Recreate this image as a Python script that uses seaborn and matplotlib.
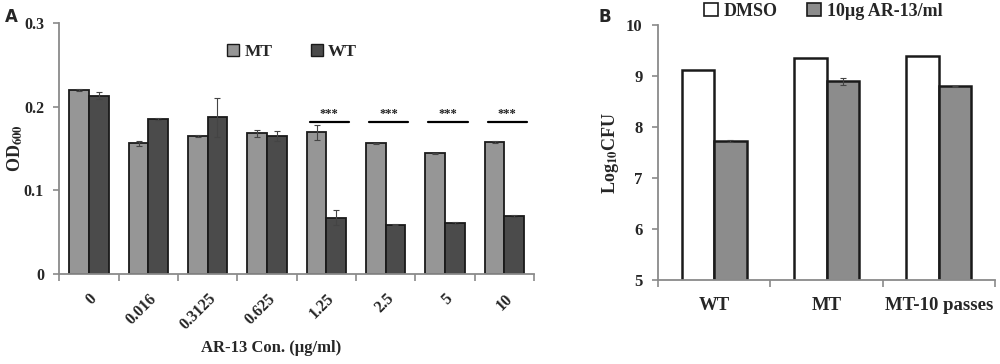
import matplotlib
matplotlib.use("Agg")
import matplotlib.pyplot as plt
import seaborn as sns
import pandas as pd
from matplotlib.patches import Patch

# Painel A: OD600 por concentração de AR-13
concentracoes = ["0", "0.016", "0.3125", "0.625", "1.25", "2.5", "5", "10"]
od_mt = [0.220, 0.156, 0.165, 0.168, 0.169, 0.156, 0.144, 0.158]
od_wt = [0.213, 0.185, 0.187, 0.165, 0.067, 0.059, 0.061, 0.069]
err_mt = [0.001, 0.003, 0.001, 0.004, 0.009, 0.001, 0.001, 0.001]
err_wt = [0.004, 0.001, 0.023, 0.006, 0.009, 0.001, 0.001, 0.001]
signif = ["", "", "", "", "***", "***", "***", "***"]

# Painel B: Log10 CFU
cepas = ["WT", "MT", "MT-10 passes"]
tratamentos = ["DMSO", "10µg AR-13/ml"]
cfu_dmso = [9.12, 9.35, 9.40]
cfu_ar13 = [7.73, 8.90, 8.80]
err_ar13 = [0.02, 0.07, 0.01]

COR_MT = "#969696"
COR_WT = "#4b4b4b"
COR_AR = "#8c8c8c"
BORDA = "#1a1a1a"
EIXO = "#8a8a8a"

sns.set_style("white")
plt.rcParams["font.family"] = ["Liberation Serif", "DejaVu Serif"]
plt.rcParams["font.weight"] = "bold"
plt.rcParams["axes.labelweight"] = "bold"
plt.rcParams["mathtext.fontset"] = "stix"

fig = plt.figure(figsize=(10, 3.64), dpi=100)
axA = fig.add_axes([0.0593, 0.247, 0.4747, 0.6906])
axB = fig.add_axes([0.658, 0.231, 0.337, 0.700])


def estilo_eixos(ax):
    for lado in ["top", "right"]:
        ax.spines[lado].set_visible(False)
    for lado in ["left", "bottom"]:
        ax.spines[lado].set_color(EIXO)
        ax.spines[lado].set_linewidth(1.3)
    ax.tick_params(axis="y", which="major", direction="out", length=4, width=1.2,
                   color=EIXO, pad=7, left=True)
    ax.tick_params(axis="x", which="major", length=0)
    ax.tick_params(axis="x", which="minor", direction="out", length=5, width=1.2,
                   color=EIXO, bottom=True)
    ax.grid(False)


# ---------- A ----------
dfA = pd.DataFrame({
    "conc": concentracoes * 2,
    "cepa": ["MT"] * len(concentracoes) + ["WT"] * len(concentracoes),
    "od": od_mt + od_wt,
})
sns.barplot(data=dfA, x="conc", y="od", hue="cepa", order=concentracoes,
            hue_order=["MT", "WT"], palette={"MT": COR_MT, "WT": COR_WT},
            width=0.66, edgecolor=BORDA, linewidth=1.3, errorbar=None,
            saturation=1, legend=False, ax=axA)

for cont, erros in zip(axA.containers, [err_mt, err_wt]):
    for barra, e in zip(cont, erros):
        xc = barra.get_x() + barra.get_width() / 2
        axA.errorbar(xc, barra.get_height(), yerr=e, color="#444444",
                     capsize=2, elinewidth=0.8, capthick=0.8)

for i, s in enumerate(signif):
    if s:
        esq = axA.containers[0][i].get_x()
        dir_ = axA.containers[1][i].get_x() + axA.containers[1][i].get_width()
        axA.plot([esq + 0.05, dir_ + 0.05], [0.182, 0.182], color="black", lw=1.6)
        axA.text((esq + dir_) / 2 + 0.05, 0.184, s, ha="center", va="bottom",
                 fontsize=9, color="#222222")

axA.set_xlim(-0.5, len(concentracoes) - 0.5)
axA.set_ylim(0, 0.3)
axA.set_yticks([0, 0.1, 0.2, 0.3])
axA.set_yticklabels(["0", "0.1", "0.2", "0.3"], fontsize=11.5, fontweight="bold")
axA.set_xticks(range(len(concentracoes)))
axA.set_xticklabels(concentracoes, rotation=45, ha="right", rotation_mode="anchor",
                    fontsize=11.5, fontweight="bold")
axA.set_xticks([i - 0.5 for i in range(len(concentracoes) + 1)], minor=True)
axA.set_xlabel("AR-13 Con. (µg/ml)", fontsize=12, fontweight="bold")
axA.xaxis.set_label_coords(0.446, -0.262)
axA.set_ylabel(r"OD$_{\mathbf{600}}$", fontsize=13, fontweight="bold")
axA.yaxis.set_label_coords(-0.072, 0.5)
estilo_eixos(axA)
axA.tick_params(axis="x", which="major", pad=12)

alca = [Patch(facecolor=COR_MT, edgecolor=BORDA, linewidth=1),
        Patch(facecolor=COR_WT, edgecolor=BORDA, linewidth=1)]
axA.legend(alca, ["MT", "WT"], loc="center", bbox_to_anchor=(0.49, 0.885),
           ncol=2, frameon=False, handlelength=0.7, handleheight=0.7,
           columnspacing=2.2, handletextpad=0.3, fontsize=12.5,
           prop={"weight": "bold", "size": 12.5})

# ---------- B ----------
dfB = pd.DataFrame({
    "cepa": cepas * 2,
    "trat": [tratamentos[0]] * len(cepas) + [tratamentos[1]] * len(cepas),
    "cfu": cfu_dmso + cfu_ar13,
})
sns.barplot(data=dfB, x="cepa", y="cfu", hue="trat", order=cepas,
            hue_order=tratamentos,
            palette={tratamentos[0]: "white", tratamentos[1]: COR_AR},
            width=0.58, edgecolor=BORDA, linewidth=1.8, errorbar=None,
            saturation=1, legend=False, ax=axB)

for barra, e in zip(axB.containers[1], err_ar13):
    xc = barra.get_x() + barra.get_width() / 2
    axB.errorbar(xc, barra.get_height(), yerr=e, color="#444444",
                 capsize=2, elinewidth=0.8, capthick=0.8)

axB.set_xlim(-0.5, len(cepas) - 0.5)
axB.set_ylim(5, 10)
axB.set_yticks([5, 6, 7, 8, 9, 10])
axB.set_yticklabels(["5", "6", "7", "8", "9", "10"], fontsize=12, fontweight="bold")
axB.set_xticks(range(len(cepas)))
axB.set_xticklabels(cepas, fontsize=13.5, fontweight="bold")
axB.set_xticks([i - 0.5 for i in range(len(cepas) + 1)], minor=True)
axB.set_xlabel("")
axB.set_ylabel(r"Log$_{\mathbf{10}}$CFU", fontsize=13, fontweight="bold")
axB.yaxis.set_label_coords(-0.11, 0.5)
estilo_eixos(axB)
axB.tick_params(axis="x", which="major", pad=12)

alcaB = [Patch(facecolor="white", edgecolor=BORDA, linewidth=1.2),
         Patch(facecolor=COR_AR, edgecolor=BORDA, linewidth=1.2)]
axB.legend(alcaB, tratamentos, loc="center", bbox_to_anchor=(0.49, 1.055),
           ncol=2, frameon=False, handlelength=0.8, handleheight=0.8,
           columnspacing=1.6, handletextpad=0.3,
           prop={"weight": "bold", "size": 13})

fig.text(0.005, 0.953, "A", fontfamily="DejaVu Sans", fontweight="bold", fontsize=12,
         va="center")
fig.text(0.598, 0.953, "B", fontfamily="DejaVu Sans", fontweight="bold", fontsize=12,
         va="center")

fig.savefig("out.png", dpi=100)
